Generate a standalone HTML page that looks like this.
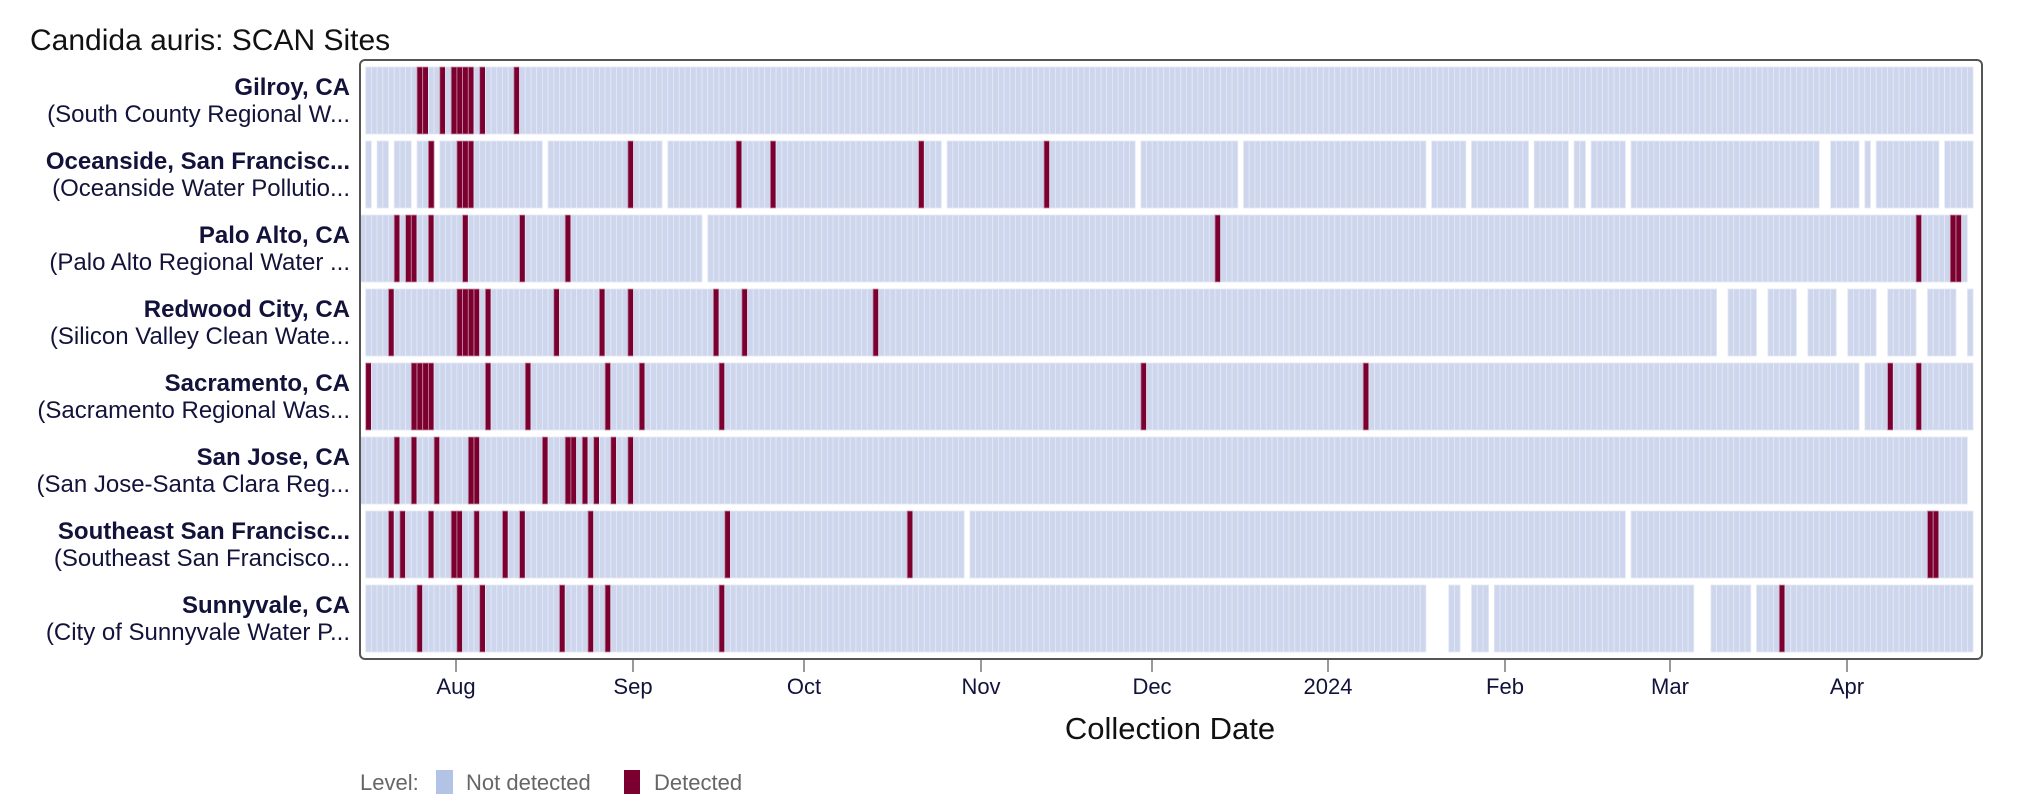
<!DOCTYPE html>
<html><head><meta charset="utf-8"><style>
html,body{margin:0;padding:0;background:#fff;}
svg{display:block;font-family:"Liberation Sans",sans-serif;}
</style></head><body>
<svg id="s" width="2022" height="810" viewBox="0 0 2022 810" xmlns="http://www.w3.org/2000/svg">
<text x="30" y="50" font-size="30" fill="#111">Candida auris: SCAN Sites</text>
<g id="cells"></g>
<rect x="360" y="60" width="1622" height="599" rx="5" fill="none" stroke="#555" stroke-width="2"/>
<g font-size="24" fill="#12123a" text-anchor="end">
<text x="350" y="95" font-weight="bold">Gilroy, CA</text><text x="350" y="122">(South County Regional W...</text>
<text x="350" y="169" font-weight="bold">Oceanside, San Francisc...</text><text x="350" y="196">(Oceanside Water Pollutio...</text>
<text x="350" y="243" font-weight="bold">Palo Alto, CA</text><text x="350" y="270">(Palo Alto Regional Water ...</text>
<text x="350" y="317" font-weight="bold">Redwood City, CA</text><text x="350" y="344">(Silicon Valley Clean Wate...</text>
<text x="350" y="391" font-weight="bold">Sacramento, CA</text><text x="350" y="418">(Sacramento Regional Was...</text>
<text x="350" y="465" font-weight="bold">San Jose, CA</text><text x="350" y="492">(San Jose-Santa Clara Reg...</text>
<text x="350" y="539" font-weight="bold">Southeast San Francisc...</text><text x="350" y="566">(Southeast San Francisco...</text>
<text x="350" y="613" font-weight="bold">Sunnyvale, CA</text><text x="350" y="640">(City of Sunnyvale Water P...</text>
</g>
<g stroke="#777" stroke-width="1.5">
<line x1="456" y1="660" x2="456" y2="672"/><line x1="633" y1="660" x2="633" y2="672"/><line x1="804" y1="660" x2="804" y2="672"/><line x1="981" y1="660" x2="981" y2="672"/><line x1="1152" y1="660" x2="1152" y2="672"/><line x1="1328" y1="660" x2="1328" y2="672"/><line x1="1505" y1="660" x2="1505" y2="672"/><line x1="1670" y1="660" x2="1670" y2="672"/><line x1="1847" y1="660" x2="1847" y2="672"/>
</g>
<g font-size="22" fill="#12123a" text-anchor="middle">
<text x="456" y="694">Aug</text><text x="633" y="694">Sep</text><text x="804" y="694">Oct</text><text x="981" y="694">Nov</text><text x="1152" y="694">Dec</text><text x="1328" y="694">2024</text><text x="1505" y="694">Feb</text><text x="1670" y="694">Mar</text><text x="1847" y="694">Apr</text>
</g>
<text x="1170" y="739" font-size="31" fill="#111" text-anchor="middle">Collection Date</text>
<g font-size="22" fill="#666">
<text x="360" y="790">Level:</text>
<rect x="436" y="770" width="17" height="24" fill="#b3c3e6"/>
<text x="466" y="790">Not detected</text>
<rect x="624" y="770" width="16" height="24" fill="#7b0030"/>
<text x="654" y="790">Detected</text>
</g>
</svg>
<script>
var rows=[
 {s:0,e:281,gaps:[],red:[9,10,13,15,16,17,18,20,26]},
 {s:0,e:281,gaps:[1,4,8,12,31,52,101,135,153,186,193,204,211,214,221,255,256,262,264,276],red:[11,16,17,18,46,65,71,97,119]},
 {s:-1,e:280,gaps:[59],red:[5,7,8,11,17,27,35,149,272,278,279]},
 {s:0,e:281,gaps:[237,238,244,245,251,252,258,259,265,266,272,273,279,280],red:[4,16,17,18,19,21,33,41,46,61,66,89]},
 {s:0,e:281,gaps:[262],red:[0,8,9,10,11,21,28,42,48,62,136,175,267,272]},
 {s:-1,e:280,gaps:[],red:[5,8,12,18,19,31,35,36,38,40,43,46]},
 {s:0,e:281,gaps:[105,221],red:[4,6,11,15,16,19,24,27,39,63,95,274,275]},
 {s:0,e:281,gaps:[186,187,188,189,192,193,197,233,234,235,243],red:[9,16,20,34,39,42,62,248]}
];
var g=document.getElementById('cells'),h='';
for(var r=0;r<rows.length;r++){var R=rows[r],y=67+74*r;
 for(var i=R.s;i<=R.e;i++){if(R.gaps.indexOf(i)>=0)continue;
  var d=R.red.indexOf(i)>=0,x=365.7+5.7*i;
  h+='<rect x="'+x.toFixed(2)+'" y="'+y+'" width="5.7" height="67" fill="'+(d?'#7b0030':'#cdd6ec')+'" stroke="'+(d?'#c58da3':'#e4e9f5')+'" stroke-width="0.8"/>';}}
g.innerHTML=h;
</script>
</body></html>
